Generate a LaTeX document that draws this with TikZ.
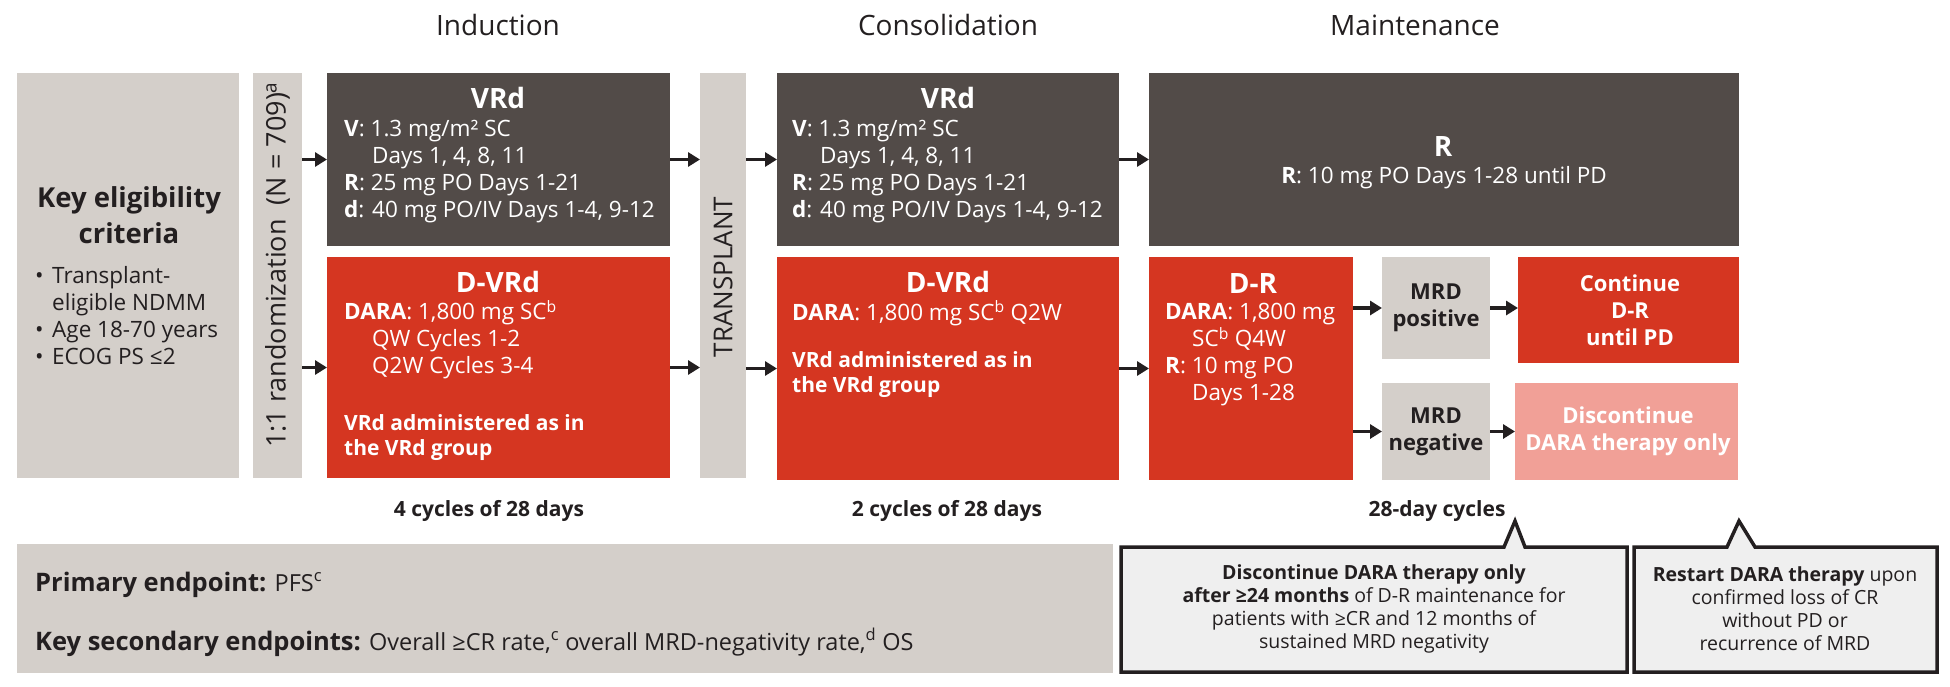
\documentclass[tikz,border=0pt]{standalone}
\usepackage{fontspec}
\setmainfont{Open Sans}
\usepackage{tikz}
\usetikzlibrary{arrows.meta}
\definecolor{boxgrey}{RGB}{212,207,202}
\definecolor{armdark}{RGB}{82,75,72}
\definecolor{armred}{RGB}{213,54,33}
\definecolor{armpink}{RGB}{241,160,151}
\definecolor{inkdark}{RGB}{35,31,32}
\definecolor{notegrey}{RGB}{239,239,239}
% box from (x1,y1) to (x2,y2), in px
\newcommand{\armbox}[6]{\node[#1, minimum width={#4-#2}, minimum height={#5-#3}] (#6) at ({(#2+#4)/2},{(#3+#5)/2}) {};}

\begin{document}
\begin{tikzpicture}[x=1pt,y=-1pt,
  greybox/.style={fill=boxgrey,draw=none,inner sep=0pt,outer sep=0pt},
  darkbox/.style={fill=armdark,draw=none,inner sep=0pt,outer sep=0pt},
  redbox/.style={fill=armred,draw=none,inner sep=0pt,outer sep=0pt},
  pinkbox/.style={fill=armpink,draw=none,inner sep=0pt,outer sep=0pt},
  arr/.style={line width=3.5pt,draw=inkdark,-{Triangle[length=12pt,width=14pt]}},
  phase/.style={font=\fontsize{28}{32}\selectfont,text=inkdark,inner sep=0pt},
  hd/.style={font=\fontsize{28}{32}\selectfont\bfseries,text=white,inner sep=0pt},
  body/.style={font=\fontsize{22.5}{26.7}\selectfont,text=white,align=left,inner sep=0pt},
  bodyb/.style={font=\fontsize{21}{25}\selectfont\bfseries,text=white,align=left,inner sep=0pt},
  mrd/.style={font=\fontsize{22}{27}\selectfont\bfseries,text=inkdark,align=center,inner sep=0pt},
  cyc/.style={font=\fontsize{21}{25}\selectfont\bfseries,text=inkdark,inner sep=0pt},
  endp/.style={font=\fontsize{23.5}{30}\selectfont,text=inkdark,inner sep=0pt,anchor=base west},
  callout/.style={fill=notegrey,draw=inkdark,line width=3.5pt,line join=miter},
  notetxt/.style={font=\fontsize{19.5}{23}\selectfont,text=inkdark,align=center,inner sep=0pt}
]
\useasboundingbox (0,0) rectangle (1950,686);
%phases
\node[phase] (ind) at (498,25) {Induction};
\node[phase] (cons) at (948,25) {Consolidation};
\node[phase] (maint) at (1415,25) {Maintenance};
%boxes
\armbox{greybox}{17}{73}{239}{478}{elig}
\armbox{greybox}{253}{73}{302}{478}{rand}
\armbox{darkbox}{327}{73}{670}{246}{ivrd}
\armbox{redbox}{327}{257}{670}{478}{idvrd}
\armbox{greybox}{700}{73}{746}{478}{tx}
\armbox{darkbox}{777}{73}{1119}{246}{cvrd}
\armbox{redbox}{777}{257}{1119}{480}{cdvrd}
\armbox{darkbox}{1149}{73}{1739}{246}{mr}
\armbox{redbox}{1149}{257}{1353}{480}{mdr}
\armbox{greybox}{1382}{257}{1490}{359}{mpos}
\armbox{greybox}{1382}{383}{1490}{480}{mneg}
\armbox{redbox}{1518}{257}{1739}{363}{cont}
\armbox{pinkbox}{1515}{383}{1738}{480}{disc}
\armbox{greybox}{17}{544}{1113}{673}{endpts}
%eligibility (base = last line)
\node[font=\fontsize{27.5}{36}\selectfont\bfseries,text=inkdark,align=center,inner sep=0pt] (eligT) at (129,215) {Key eligibility\\criteria};
\node[font=\fontsize{22.5}{26.7}\selectfont,text=inkdark,align=left,inner sep=0pt,anchor=base west] (eligX) at (35,364)
  {\makebox[17pt][l]{•}Transplant-\\\hspace*{17pt}eligible NDMM\\\makebox[17pt][l]{•}Age 18-70 years\\\makebox[17pt][l]{•}ECOG PS ≤2};
\node[font=\fontsize{27}{30}\selectfont,text=inkdark,rotate=90,inner sep=0pt] (randT) at (277.5,265) {1:1 randomization\ \ (N = 709)\textsuperscript{a}};
\node[font=\fontsize{26}{30}\selectfont,text=inkdark,rotate=90,inner sep=0pt] (txT) at (723,277) {TRANSPLANT};
%induction
\node[hd] (ivrdT) at (498,98) {VRd};
\node[body,anchor=base west] (ivrdX) at (344,217)
  {\textbf{V}: 1.3 mg/m² SC\\\hspace*{28pt}Days 1, 4, 8, 11\\\textbf{R}: 25 mg PO Days 1-21\\\textbf{d}: 40 mg PO/IV Days 1-4, 9-12};
\node[hd] (idvrdT) at (498,282) {D-VRd};
\node[body,anchor=base west] (idvrdX) at (344,373)
  {\textbf{DARA}: 1,800 mg SC\textsuperscript{b}\\\hspace*{28pt}QW Cycles 1-2\\\hspace*{28pt}Q2W Cycles 3-4};
\node[bodyb,anchor=base west] (idvrdY) at (344,455) {VRd administered as in\\the VRd group};
%consolidation
\node[hd] (cvrdT) at (948,98) {VRd};
\node[body,anchor=base west] (cvrdX) at (792,217)
  {\textbf{V}: 1.3 mg/m² SC\\\hspace*{28pt}Days 1, 4, 8, 11\\\textbf{R}: 25 mg PO Days 1-21\\\textbf{d}: 40 mg PO/IV Days 1-4, 9-12};
\node[hd] (cdvrdT) at (948,282) {D-VRd};
\node[body,anchor=base west] (cdvrdX) at (792,320) {\textbf{DARA}: 1,800 mg SC\textsuperscript{b} Q2W};
\node[bodyb,anchor=base west] (cdvrdY) at (792,392) {VRd administered as in\\the VRd group};
%maintenance
\node[hd] (mrT) at (1443,147) {R};
\node[body] (mrX) at (1444,178) {\textbf{R}: 10 mg PO Days 1-28 until PD};
\node[hd] (mdrT) at (1253,283) {D-R};
\node[body,anchor=base west] (mdrX) at (1165,400)
  {\textbf{DARA}: 1,800 mg\\\hspace*{27pt}SC\textsuperscript{b} Q4W\\\textbf{R}: 10 mg PO\\\hspace*{27pt}Days 1-28};
\node[mrd] (mposT) at (1436,308) {MRD\\positive};
\node[mrd] (mnegT) at (1436,431.5) {MRD\\negative};
\node[mrd,text=white] (contT) at (1630,310) {Continue\\D-R\\until PD};
\node[mrd,text=white] (discT) at (1628,431.5) {Discontinue\\DARA therapy only};
%edges
\draw[arr] (rand.east |- ivrd.west) -- (ivrd.west);
\draw[arr] (rand.east |- idvrd.west) -- (idvrd.west);
\draw[arr] (ivrd.east) -- (tx.west |- ivrd.east);
\draw[arr] (idvrd.east) -- (tx.west |- idvrd.east);
\draw[arr] (tx.east |- cvrd.west) -- (cvrd.west);
\draw[arr] (tx.east |- cdvrd.west) -- (cdvrd.west);
\draw[arr] (cvrd.east) -- (mr.west |- cvrd.east);
\draw[arr] (cdvrd.east) -- (mdr.west |- cdvrd.east);
\draw[arr] (mdr.east |- mpos.west) -- (mpos.west);
\draw[arr] (mdr.east |- mneg.west) -- (mneg.west);
\draw[arr] (mpos.east) -- (cont.west |- mpos.east);
\draw[arr] (mneg.east) -- (disc.west |- mneg.east);
%cycles
\node[cyc] (icyc) at (489,511) {4 cycles of 28 days};
\node[cyc] (ccyc) at (947,511) {2 cycles of 28 days};
\node[cyc] (mcyc) at (1437,511) {28-day cycles};
%endpoints
\node[endp] (prim) at (35,591) {{\fontsize{25.5}{30}\selectfont\bfseries Primary endpoint:} PFS\textsuperscript{c}};
\node[endp] (sec) at (35,650) {{\fontsize{25.5}{30}\selectfont\bfseries Key secondary endpoints:} Overall ≥CR rate,\textsuperscript{c} overall MRD-negativity rate,\textsuperscript{d} OS};
%callouts
\draw[callout] (1121,547) -- (1504,547) -- (1515,521) -- (1525,547) -- (1627,547) -- (1627,672) -- (1121,672) -- cycle;
\draw[callout] (1634,547) -- (1727,547) -- (1739,521) -- (1755,547) -- (1937,547) -- (1937,672) -- (1634,672) -- cycle;
\node[notetxt] (stopT) at (1374,609) {\textbf{Discontinue DARA therapy only}\\\textbf{after ≥24 months} of D-R maintenance for\\patients with ≥CR and 12 months of\\sustained MRD negativity};
\node[notetxt] (restT) at (1785,609) {\textbf{Restart DARA therapy} upon\\confirmed loss of CR\\without PD or\\recurrence of MRD};
\end{tikzpicture}
\end{document}
